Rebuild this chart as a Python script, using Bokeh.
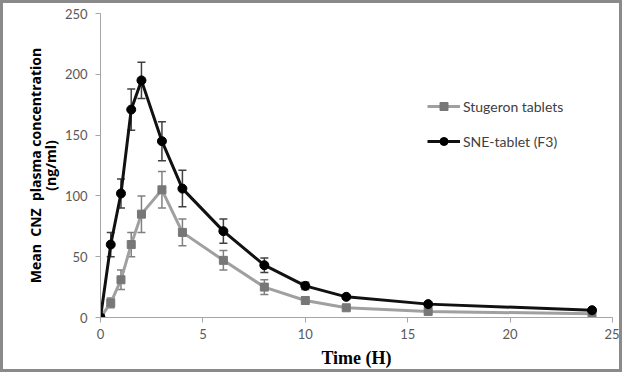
from bokeh.plotting import figure
from bokeh.models import Range1d, Whisker, ColumnDataSource, TeeHead, Legend, LegendItem, FixedTicker
from bokeh.embed import file_html
from bokeh.resources import INLINE

time_h = [0, 0.5, 1, 1.5, 2, 3, 4, 6, 8, 10, 12, 16, 24]
stugeron = [0, 12, 31, 60, 85, 105, 70, 47, 25, 14, 8, 5, 3]
stugeron_err = [0, 4, 8, 10, 15, 15, 11, 8, 6, 3, 2, 1.5, 1]
sne = [0, 60, 102, 171, 195, 145, 106, 71, 43, 26, 17, 11, 6]
sne_err = [0, 10, 12, 17, 15, 16, 15, 10, 6, 3, 2, 1.5, 1]
x_ticks = [0, 5, 10, 15, 20, 25]
y_ticks = [0, 50, 100, 150, 200, 250]

def src(y, e):
    return ColumnDataSource(dict(x=time_h, y=y,
                                 lo=[a - b for a, b in zip(y, e)],
                                 hi=[a + b for a, b in zip(y, e)]))

s1 = src(stugeron, stugeron_err)
s2 = src(sne, sne_err)

p = figure(width=622, height=372, output_backend="svg", toolbar_location=None,
           x_range=Range1d(0, 25), y_range=Range1d(0, 250),
           min_border_left=97, min_border_right=13, min_border_top=10, min_border_bottom=58)
p.styles = {"border": "3px solid #8a8a8a", "box-sizing": "border-box"}
p.outline_line_color = None
p.xgrid.visible = False
p.ygrid.visible = False

for ax in (p.xaxis[0], p.yaxis[0]):
    ax.axis_line_color = "#a6a6a6"
    ax.major_tick_line_color = "#a6a6a6"
    ax.minor_tick_line_color = None
    ax.major_tick_out = 5
    ax.major_tick_in = 0
    ax.major_label_text_font = "Lato"
    ax.major_label_text_font_size = "13px"
    ax.major_label_text_color = "#595959"
p.xaxis.ticker = FixedTicker(ticks=x_ticks)
p.yaxis.ticker = FixedTicker(ticks=y_ticks)
p.yaxis.major_label_standoff = 8
p.xaxis.major_label_standoff = 6

p.xaxis.axis_label = "Time (H)"
p.xaxis.axis_label_text_font = "Liberation Serif"
p.xaxis.axis_label_text_font_style = "bold"
p.xaxis.axis_label_text_font_size = "18px"
p.xaxis.axis_label_text_color = "black"
p.xaxis.axis_label_standoff = 6

p.yaxis.axis_label = "Mean\u00a0 CNZ\u00a0 plasma concentration\n(ng/ml)"
p.yaxis.axis_label_text_font = "Open Sans"
p.yaxis.axis_label_text_font_style = "bold"
p.yaxis.axis_label_text_font_size = "14px"
p.yaxis.axis_label_text_line_height = 0.8
p.yaxis.axis_label_text_color = "black"
p.yaxis.axis_label_standoff = 2

w1 = Whisker(source=s1, base="x", upper="hi", lower="lo", line_color="#808080", line_width=1.5,
             upper_head=TeeHead(size=8, line_color="#808080", line_width=1.5),
             lower_head=TeeHead(size=8, line_color="#808080", line_width=1.5))
w2 = Whisker(source=s2, base="x", upper="hi", lower="lo", line_color="#404040", line_width=1.5,
             upper_head=TeeHead(size=8, line_color="#404040", line_width=1.5),
             lower_head=TeeHead(size=8, line_color="#404040", line_width=1.5))
p.add_layout(w1)
p.add_layout(w2)

l1 = p.line("x", "y", source=s1, line_color="#a0a0a0", line_width=3)
m1 = p.scatter("x", "y", source=s1, marker="square", size=8, fill_color="#777777", line_color="#777777")
l2 = p.line("x", "y", source=s2, line_color="#111111", line_width=3)
m2 = p.scatter("x", "y", source=s2, marker="circle", size=9, fill_color="black", line_color="black")

legend = Legend(items=[LegendItem(label="Stugeron tablets", renderers=[l1, m1]),
                       LegendItem(label="SNE-tablet (F3)", renderers=[l2, m2])],
                location=(327, 166), orientation="vertical")
legend.padding = 0
legend.margin = 0
legend.spacing = 15
legend.glyph_width = 33
legend.glyph_height = 20
legend.label_standoff = 3
legend.border_line_alpha = 0
legend.background_fill_alpha = 0
legend.label_text_font = "Lato"
legend.label_text_font_size = "14px"
legend.label_text_color = "#404040"
p.add_layout(legend)

open("out.html", "w").write(file_html(p, INLINE))
